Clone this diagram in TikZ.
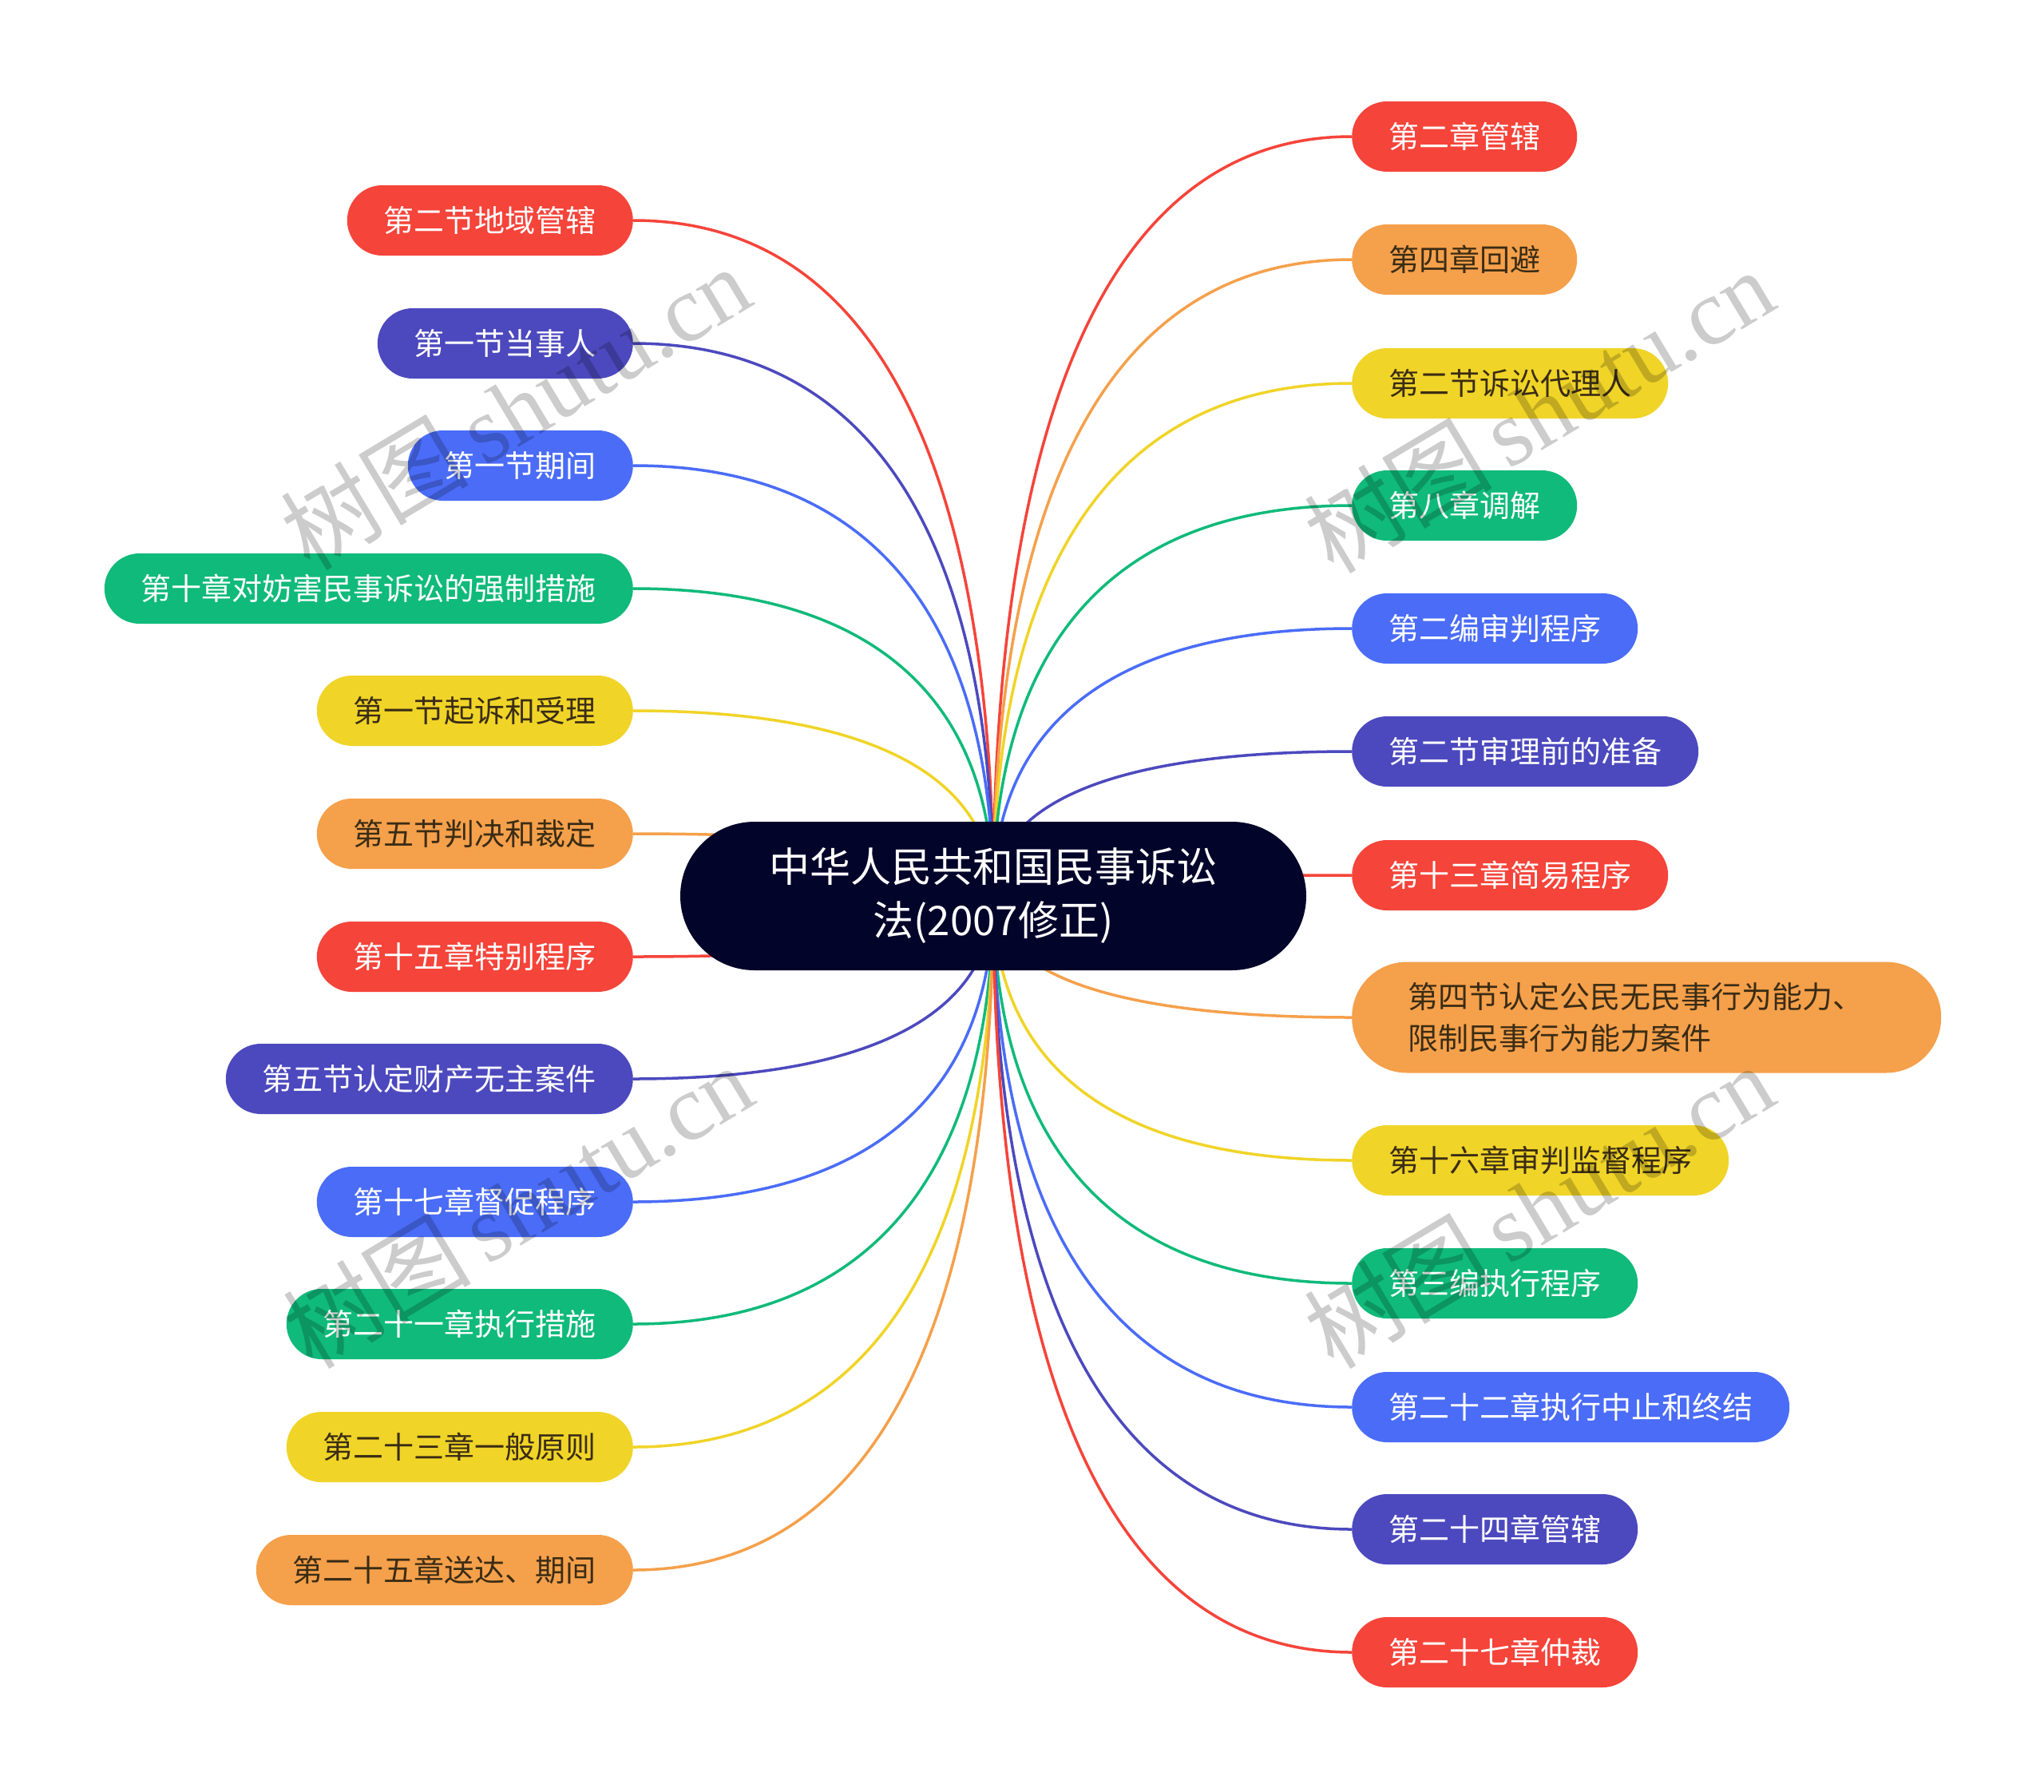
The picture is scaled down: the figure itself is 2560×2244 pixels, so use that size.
\documentclass[tikz,border=0pt]{standalone}
\usepackage{fontspec}
\usetikzlibrary{calc,backgrounds}
\newfontfamily\cjk{Noto Sans CJK SC}
\newfontfamily\wmlatin{Liberation Serif}

\definecolor{mmRed}{HTML}{F5443A}
\definecolor{mmOrange}{HTML}{F5A04B}
\definecolor{mmYellow}{HTML}{F0D428}
\definecolor{mmGreen}{HTML}{10BA7A}
\definecolor{mmBlue}{HTML}{4A6CF7}
\definecolor{mmIndigo}{HTML}{4C49BE}
\definecolor{mmRoot}{HTML}{03042A}
\definecolor{mmInk}{HTML}{3A2C14}

\tikzset{
  leaf/.style={rounded corners=44pt, minimum height=88pt, inner xsep=46pt, inner ysep=0pt,
    font=\cjk\fontsize{38}{52}\selectfont},
  redleaf/.style={leaf, fill=mmRed, text=white},
  orangeleaf/.style={leaf, fill=mmOrange, text=mmInk},
  yellowleaf/.style={leaf, fill=mmYellow, text=mmInk},
  greenleaf/.style={leaf, fill=mmGreen, text=white},
  blueleaf/.style={leaf, fill=mmBlue, text=white},
  indigoleaf/.style={leaf, fill=mmIndigo, text=white},
  branch/.style={line width=3.5pt,
    to path={.. controls ($(\tikztostart)!0.45!(\tikztostart |- \tikztotarget)$)
      and ($(\tikztotarget)!0.83!(\tikztotarget -| \tikztostart)$) .. (\tikztotarget)}},
  watermark/.style={rotate=31, text=black, opacity=0.2, font=\fontsize{118}{118}\selectfont}
}

\begin{document}
\begin{tikzpicture}[x=1pt, y=-1pt]
  \useasboundingbox (0,0) rectangle (2560,2244);

  % Root
  \node[rounded corners=93pt, fill=mmRoot, text=white, minimum width=784pt, minimum height=186pt,
    align=center, font=\cjk\fontsize{51}{67}\selectfont] (root) at (1244,1122)
    {中华人民共和国民事诉讼\\法(2007修正)};

  % Left leaves
  \node[redleaf, anchor=east] (left1) at (793,276) {第二节地域管辖};
  \node[indigoleaf, anchor=east] (left2) at (793,430) {第一节当事人};
  \node[blueleaf, anchor=east] (left3) at (793,583) {第一节期间};
  \node[greenleaf, anchor=east] (left4) at (793,737) {第十章对妨害民事诉讼的强制措施};
  \node[yellowleaf, anchor=east] (left5) at (793,890) {第一节起诉和受理};
  \node[orangeleaf, anchor=east] (left6) at (793,1044) {第五节判决和裁定};
  \node[redleaf, anchor=east] (left7) at (793,1198) {第十五章特别程序};
  \node[indigoleaf, anchor=east] (left8) at (793,1351) {第五节认定财产无主案件};
  \node[blueleaf, anchor=east] (left9) at (793,1505) {第十七章督促程序};
  \node[greenleaf, anchor=east] (left10) at (793,1658) {第二十一章执行措施};
  \node[yellowleaf, anchor=east] (left11) at (793,1812) {第二十三章一般原则};
  \node[orangeleaf, anchor=east] (left12) at (793,1966) {第二十五章送达、期间};

  % Right leaves
  \node[redleaf, anchor=west] (right1) at (1693,171) {第二章管辖};
  \node[orangeleaf, anchor=west] (right2) at (1693,325) {第四章回避};
  \node[yellowleaf, anchor=west] (right3) at (1693,480) {第二节诉讼代理人};
  \node[greenleaf, anchor=west] (right4) at (1693,633) {第八章调解};
  \node[blueleaf, anchor=west] (right5) at (1693,787) {第二编审判程序};
  \node[indigoleaf, anchor=west] (right6) at (1693,941) {第二节审理前的准备};
  \node[redleaf, anchor=west] (right7) at (1693,1096) {第十三章简易程序};
  \node[orangeleaf, anchor=west, rounded corners=69pt, minimum height=139pt, inner xsep=70pt,
    text width=598pt, align=left] (right8) at (1693,1274)
    {第四节认定公民无民事行为能力、\\限制民事行为能力案件};
  \node[yellowleaf, anchor=west] (right9) at (1693,1453) {第十六章审判监督程序};
  \node[greenleaf, anchor=west] (right10) at (1693,1607) {第三编执行程序};
  \node[blueleaf, anchor=west] (right11) at (1693,1762) {第二十二章执行中止和终结};
  \node[indigoleaf, anchor=west] (right12) at (1693,1915) {第二十四章管辖};
  \node[redleaf, anchor=west] (right13) at (1693,2069) {第二十七章仲裁};

  % Branches
  \begin{scope}[on background layer]
    \fill[white] (0,0) rectangle (2560,2244);
    \draw[branch, mmRed] (root.center) to (left1.east);
    \draw[branch, mmIndigo] (root.center) to (left2.east);
    \draw[branch, mmBlue] (root.center) to (left3.east);
    \draw[branch, mmGreen] (root.center) to (left4.east);
    \draw[branch, mmYellow] (root.center) to (left5.east);
    \draw[branch, mmOrange] (root.center) to (left6.east);
    \draw[branch, mmRed] (root.center) to (left7.east);
    \draw[branch, mmIndigo] (root.center) to (left8.east);
    \draw[branch, mmBlue] (root.center) to (left9.east);
    \draw[branch, mmGreen] (root.center) to (left10.east);
    \draw[branch, mmYellow] (root.center) to (left11.east);
    \draw[branch, mmOrange] (root.center) to (left12.east);

    \draw[branch, mmRed] (root.center) to (right1.west);
    \draw[branch, mmOrange] (root.center) to (right2.west);
    \draw[branch, mmYellow] (root.center) to (right3.west);
    \draw[branch, mmGreen] (root.center) to (right4.west);
    \draw[branch, mmBlue] (root.center) to (right5.west);
    \draw[branch, mmIndigo] (root.center) to (right6.west);
    \draw[branch, mmRed] (root.center) to (right7.west);
    \draw[branch, mmOrange] (root.center) to (right8.west);
    \draw[branch, mmYellow] (root.center) to (right9.west);
    \draw[branch, mmGreen] (root.center) to (right10.west);
    \draw[branch, mmBlue] (root.center) to (right11.west);
    \draw[branch, mmIndigo] (root.center) to (right12.west);
    \draw[branch, mmRed] (root.center) to (right13.west);
  \end{scope}

  % Watermark
  \node[watermark] (mark1) at (645,510) {\cjk 树图\,\wmlatin shutu.cn};
  \node[watermark] (mark2) at (648,1510) {\cjk 树图\,\wmlatin shutu.cn};
  \node[watermark] (mark3) at (1927,514) {\cjk 树图\,\wmlatin shutu.cn};
  \node[watermark] (mark4) at (1927,1510) {\cjk 树图\,\wmlatin shutu.cn};
\end{tikzpicture}
\end{document}
